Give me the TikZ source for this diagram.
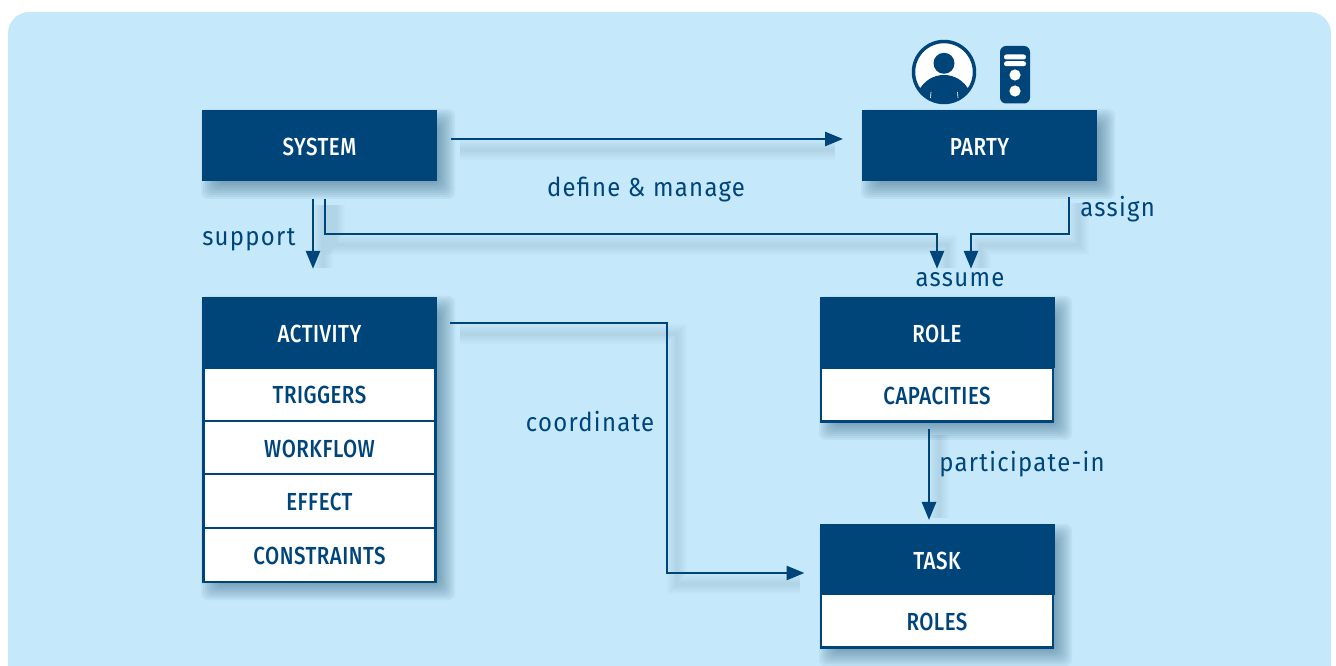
\documentclass[tikz,border=0pt]{standalone}
\usepackage{fontspec}
\setmainfont{Fira Sans}
\newfontfamily\boxfont[FakeStretch=0.83,LetterSpace=2]{Fira Sans Medium}
\newfontfamily\labfont[FakeStretch=0.92,LetterSpace=5]{Fira Sans}
\usetikzlibrary{arrows.meta,calc}
\definecolor{navy}{HTML}{00457A}
\definecolor{panel}{HTML}{C5E8FA}
\definecolor{shadowc}{HTML}{1F4E6E}
\newcommand{\softshadow}[4]{%
  \foreach \g in {-10,-8,-6,-4,-2,0,2,4,6,8,10,12}{%
    \fill[color=shadowc,opacity=0.06,rounded corners=5pt]
      (#1+11-\g,#2+11-\g) rectangle (#3+6+\g,#4+6+\g);}}
\tikzset{
  x=0.75pt,y=-0.75pt,
  head/.style={fill=navy,draw=navy,line width=0.5pt,minimum width=175.75pt,minimum height=53pt,inner sep=0pt,text=white,text height=14.6pt,text depth=0pt,font=\boxfont\fontsize{18.5}{20}\selectfont},
  row/.style={fill=white,draw=navy,line width=1.8pt,minimum width=174.25pt,inner sep=0pt,text=navy,text height=14.6pt,text depth=0pt,font=\boxfont\fontsize{18.5}{20}\selectfont},
  lab/.style={text=navy,inner sep=0pt,font=\labfont\fontsize{19.5}{22}\selectfont},
  conn/.style={draw=navy,line width=2pt},
  arr/.style={conn,-{Triangle[length=13.5pt,width=10.5pt]}},
  smear/.style={color=shadowc,opacity=0.022,line width=#1},
}
\begin{document}
\begin{tikzpicture}
\useasboundingbox (0,0) rectangle (1336,666);
\fill[white] (0,0) rectangle (1336,666);
\begin{scope}
\clip (0,0) rectangle (1336,666);
\fill[panel,rounded corners=16pt] (8,12) rectangle (1331,720);
\end{scope}
% shadows
\softshadow{202}{110}{437}{181}
\softshadow{862}{110}{1097}{181}
\softshadow{202}{297}{437}{582}
\softshadow{820}{297}{1054}{422}
\softshadow{820}{525}{1054}{648}
% connector shadows
\foreach \w in {3pt,6pt,9pt,12pt,15pt}{
 \draw[smear=\w] (460,150)--(835,150);
 \draw[smear=\w] (323,205)--(323,268);
 \draw[smear=\w] (335,205)--(335,245)--(947,245)--(947,268);
 \draw[smear=\w] (1079,203)--(1079,245)--(981,245)--(981,268);
 \draw[smear=\w] (460,334)--(677,334)--(677,584)--(800,584);
 \draw[smear=\w] (939,435)--(939,518);
}
% nodes
\node[head] (system) at (319.5,145.5) {SYSTEM};
\node[head] (party) at (979.5,145.5) {PARTY};
\node[row,minimum height=40pt] (triggers) at (319.5,394.2) {TRIGGERS};
\node[row,minimum height=39.75pt] (workflow) at (319.5,447.5) {WORKFLOW};
\node[row,minimum height=40.5pt] (effect) at (319.5,501) {EFFECT};
\node[row,minimum height=40.5pt] (constraints) at (319.5,555) {CONSTRAINTS};
\node[head] (activity) at (319.5,332.5) {ACTIVITY};
\node[row,minimum height=40.25pt] (capacities) at (937,394.7) {CAPACITIES};
\node[head] (role) at (937,332.5) {ROLE};
\node[row,minimum height=40.5pt] (roles) at (937,620.3) {ROLES};
\node[head,minimum height=52.3pt,text height=16pt] (task) at (937,559.2) {TASK};
% connectors
\draw[arr,shorten <=10.5pt,shorten >=14.25pt] ($(system.east)+(0,-6.5)$) -- ($(party.west)+(0,-6.5)$);
\draw[arr,shorten <=13.5pt,shorten >=21pt] (system.south -| 313,0) -- (activity.north -| 313,0);
\draw[arr,shorten <=13.5pt,shorten >=21pt] (system.south -| 325,0) -- (325,234) -- (937,234) -- (role.north);
\draw[arr,shorten <=12pt,shorten >=21pt] (party.south -| 1069,0) -- (1069,234) -- (971,234) -- (role.north -| 971,0);
\draw[arr,shorten <=10pt,shorten >=11.25pt] (activity.east |- 0,323) -- (667,323) -- (667,573) -- (task.west |- 0,573);
\draw[arr,shorten <=5pt,shorten >=3pt] (capacities.south -| 929,0) -- (task.north -| 929,0);
% labels
\node[lab,anchor=base] (l1) at (646,197) {define \& manage};
\node[lab,anchor=base west] (l2) at (202,246) {support};
\node[lab,anchor=base west] (l3) at (1080,217) {assign};
\node[lab,anchor=base] (l4) at (960,287) {assume};
\node[lab,anchor=base] (l5) at (590,432) {coordinate};
\node[lab,anchor=base west] (l6) at (939,472) {participate-in};
% icons
\begin{scope}
\fill[white,draw=navy,line width=2.6pt] (944,72) circle (30.5);
\clip (944,72) circle (30);
\fill[navy] (944,63.3) circle (10.5);
\fill[navy] (918,110) -- (918,92) .. controls (924,80) and (934,75) .. (944,75) .. controls (954,75) and (964,80) .. (970,92) -- (970,110) -- cycle;
\draw[white,line width=0.5pt] (931,92)--(930.5,98) (957.5,92)--(958,98);
\end{scope}
\fill[navy,rounded corners=4.5pt] (1000,46) rectangle (1030,103.5);
\fill[white,rounded corners=1.8pt] (1004,54.5) rectangle (1026,59.5);
\fill[white,rounded corners=1.8pt] (1004,61.2) rectangle (1026,66.2);
\fill[white] (1015,75) circle (5.6);
\fill[white] (1015,91) circle (5.6);
\end{tikzpicture}
\end{document}
